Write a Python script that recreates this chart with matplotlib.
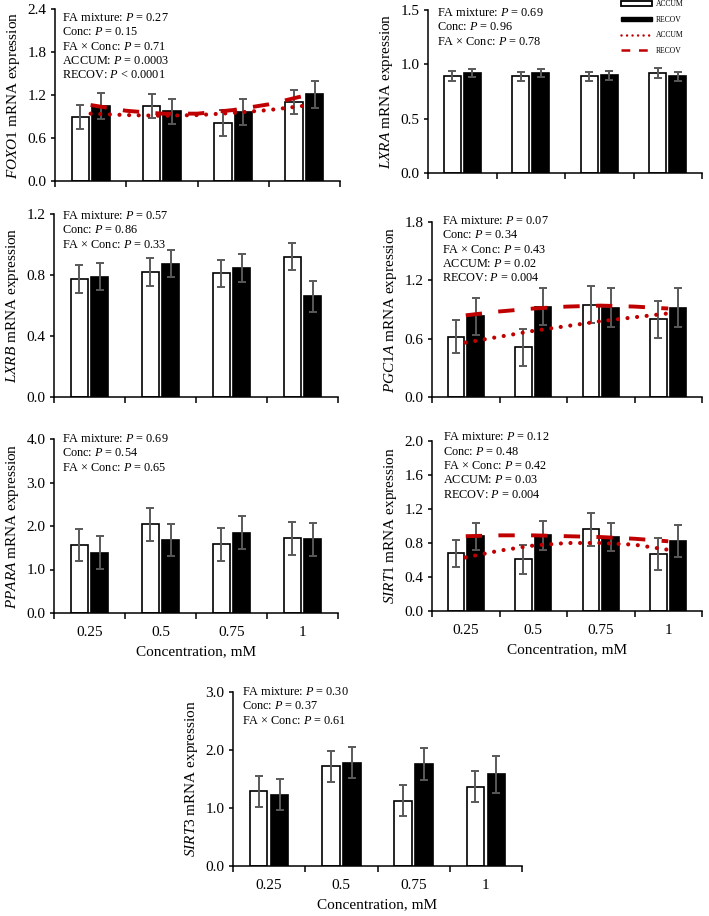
import numpy as np
import matplotlib
matplotlib.use("Agg")
import matplotlib.pyplot as plt
from matplotlib.patches import Patch
from matplotlib.lines import Line2D
from matplotlib.ticker import FormatStrFormatter

plt.rcParams["font.family"] = ["Liberation Serif", "DejaVu Serif"]
plt.rcParams["mathtext.fontset"] = "custom"
plt.rcParams["mathtext.rm"] = "Liberation Serif"
plt.rcParams["mathtext.it"] = "Liberation Serif:italic"

conc = ["0.25", "0.5", "0.75", "1"]
trend_x = [1, 1.5, 2, 2.5, 3, 3.5, 4]

# FOXO1
foxo1_accum = [0.89, 1.05, 0.81, 1.10]
foxo1_accum_se = [0.17, 0.17, 0.18, 0.17]
foxo1_recov = [1.05, 0.97, 0.96, 1.21]
foxo1_recov_se = [0.18, 0.18, 0.18, 0.19]
foxo1_trend_accum = [0.94, 0.92, 0.91, 0.92, 0.95, 0.99, 1.05]
foxo1_trend_recov = [1.06, 0.98, 0.94, 0.94, 0.99, 1.07, 1.19]
foxo1_stats = ["FA mixture: $P$ = 0.27", "Conc: $P$ = 0.15", "FA × Conc: $P$ = 0.71",
               "ACCUM: $P$ = 0.0003", "RECOV: $P$ < 0.0001"]

# LXRA
lxra_accum = [0.89, 0.89, 0.89, 0.92]
lxra_accum_se = [0.045, 0.04, 0.04, 0.05]
lxra_recov = [0.92, 0.92, 0.90, 0.89]
lxra_recov_se = [0.04, 0.04, 0.04, 0.04]
lxra_stats = ["FA mixture: $P$ = 0.69", "Conc: $P$ = 0.96", "FA × Conc: $P$ = 0.78"]

# LXRB
lxrb_accum = [0.775, 0.82, 0.81, 0.92]
lxrb_accum_se = [0.09, 0.09, 0.09, 0.09]
lxrb_recov = [0.79, 0.875, 0.845, 0.66]
lxrb_recov_se = [0.09, 0.09, 0.09, 0.10]
lxrb_stats = ["FA mixture: $P$ = 0.57", "Conc: $P$ = 0.86", "FA × Conc: $P$ = 0.33"]

# PGC1A
pgc1a_accum = [0.62, 0.51, 0.95, 0.80]
pgc1a_accum_se = [0.17, 0.19, 0.19, 0.19]
pgc1a_recov = [0.83, 0.93, 0.92, 0.92]
pgc1a_recov_se = [0.19, 0.19, 0.20, 0.20]
pgc1a_trend_accum = [0.56, 0.62, 0.68, 0.73, 0.78, 0.82, 0.86]
pgc1a_trend_recov = [0.84, 0.88, 0.91, 0.93, 0.94, 0.93, 0.91]
pgc1a_stats = ["FA mixture: $P$ = 0.07", "Conc: $P$ = 0.34", "FA × Conc: $P$ = 0.43",
               "ACCUM: $P$ = 0.02", "RECOV: $P$ = 0.004"]

# PPARA
ppara_accum = [1.56, 2.04, 1.58, 1.72]
ppara_accum_se = [0.37, 0.38, 0.38, 0.38]
ppara_recov = [1.39, 1.67, 1.85, 1.70]
ppara_recov_se = [0.38, 0.37, 0.38, 0.38]
ppara_stats = ["FA mixture: $P$ = 0.69", "Conc: $P$ = 0.54", "FA × Conc: $P$ = 0.65"]

# SIRT1
sirt1_accum = [0.68, 0.61, 0.96, 0.67]
sirt1_accum_se = [0.16, 0.17, 0.19, 0.19]
sirt1_recov = [0.88, 0.89, 0.87, 0.82]
sirt1_recov_se = [0.16, 0.17, 0.16, 0.19]
sirt1_trend_accum = [0.63, 0.71, 0.77, 0.80, 0.80, 0.78, 0.72]
sirt1_trend_recov = [0.88, 0.89, 0.89, 0.88, 0.87, 0.85, 0.82]
sirt1_stats = ["FA mixture: $P$ = 0.12", "Conc: $P$ = 0.48", "FA × Conc: $P$ = 0.42",
               "ACCUM: $P$ = 0.03", "RECOV: $P$ = 0.004"]

# SIRT3
sirt3_accum = [1.29, 1.72, 1.125, 1.37]
sirt3_accum_se = [0.27, 0.27, 0.27, 0.27]
sirt3_recov = [1.23, 1.78, 1.76, 1.58]
sirt3_recov_se = [0.27, 0.27, 0.27, 0.32]
sirt3_stats = ["FA mixture: $P$ = 0.30", "Conc: $P$ = 0.37", "FA × Conc: $P$ = 0.61"]

RED = "#C00000"
GREY = "#595959"
W, H = 709, 916

fig = plt.figure(figsize=(W / 100, H / 100), dpi=100)


def px_rect(left, top, right, bottom):
    return [left / W, 1 - bottom / H, (right - left) / W, (bottom - top) / H]


def panel(rect, gene, accum, accum_se, recov, recov_se, ymax, ystep, stats,
          txt_dx, txt_dy, trend=None, xlabels=False):
    ax = fig.add_axes(rect)
    x = np.arange(1, 5)
    ax.bar(x - 0.145, accum, 0.245, color="white", edgecolor="black", linewidth=1.2, zorder=2)
    ax.bar(x + 0.145, recov, 0.245, color="black", edgecolor="black", linewidth=1.2, zorder=2)
    for xs, ys, es in [(x - 0.145, accum, accum_se), (x + 0.145, recov, recov_se)]:
        ax.errorbar(xs, ys, yerr=es, fmt="none", ecolor=GREY, elinewidth=1.4,
                    capsize=3, capthick=1.4, zorder=3)
    if trend is not None:
        ax.plot(trend_x, trend[0], color=RED, lw=3.0, linestyle=(0, (0.01, 2.3)),
                dash_capstyle="round", zorder=4)
        ax.plot(trend_x, trend[1], color=RED, lw=2.8, linestyle=(0, (4.2, 4.2)), zorder=4)

    ax.set_xlim(0.5, 4.5)
    ax.set_ylim(0, ymax)
    ax.set_yticks(np.arange(0, ymax + ystep / 2, ystep))
    ax.yaxis.set_major_formatter(FormatStrFormatter("%.1f"))
    ax.set_xticks([0.5, 1.5, 2.5, 3.5, 4.5])
    ax.set_xticklabels([])
    ax.set_xticks(x, minor=True)
    ax.tick_params(axis="x", which="major", direction="out", length=4, width=1.1)
    ax.tick_params(axis="x", which="minor", length=0, pad=9.5, labelsize=11)
    ax.tick_params(axis="y", direction="out", length=3, width=1.1, pad=3, labelsize=11)
    if xlabels:
        ax.set_xticklabels(conc, minor=True)
        ax.set_xlabel("Concentration, mM", fontsize=11, labelpad=4.5)
    for s in ["top", "right"]:
        ax.spines[s].set_visible(False)
    for s in ["left", "bottom"]:
        ax.spines[s].set_linewidth(1.1)
    ax.set_ylabel(r"$\mathit{" + gene + "}$ mRNA expression", fontsize=11, labelpad=4)

    for i, line in enumerate(stats):
        ax.annotate(line, xy=(0, 1), xycoords="axes fraction",
                    xytext=(txt_dx * 0.72, -(txt_dy + i * 14.3) * 0.72),
                    textcoords="offset points", ha="left", va="center", fontsize=8.8)
    return ax


panel(px_rect(55, 9, 340, 181), "FOXO1", foxo1_accum, foxo1_accum_se, foxo1_recov,
      foxo1_recov_se, 2.4, 0.6, foxo1_stats, 7, 9, trend=(foxo1_trend_accum, foxo1_trend_recov))
panel(px_rect(428, 10, 702, 173), "LXRA", lxra_accum, lxra_accum_se, lxra_recov,
      lxra_recov_se, 1.5, 0.5, lxra_stats, 9, 3)
panel(px_rect(54, 214, 338, 397), "LXRB", lxrb_accum, lxrb_accum_se, lxrb_recov,
      lxrb_recov_se, 1.2, 0.4, lxrb_stats, 8, 2)
panel(px_rect(432, 222, 702, 397), "PGC1A", pgc1a_accum, pgc1a_accum_se, pgc1a_recov,
      pgc1a_recov_se, 1.8, 0.6, pgc1a_stats, 10, -1, trend=(pgc1a_trend_accum, pgc1a_trend_recov))
panel(px_rect(54, 439, 338, 613), "PPARA", ppara_accum, ppara_accum_se, ppara_recov,
      ppara_recov_se, 4.0, 1.0, ppara_stats, 8, 0, xlabels=True)
panel(px_rect(432, 441, 702, 611), "SIRT1", sirt1_accum, sirt1_accum_se, sirt1_recov,
      sirt1_recov_se, 2.0, 0.4, sirt1_stats, 10.5, -3.5, trend=(sirt1_trend_accum, sirt1_trend_recov),
      xlabels=True)
panel(px_rect(233, 692, 522, 866), "SIRT3", sirt3_accum, sirt3_accum_se, sirt3_recov,
      sirt3_recov_se, 3.0, 1.0, sirt3_stats, 9.5, 0, xlabels=True)

handles = [
    Patch(facecolor="white", edgecolor="black", linewidth=1.3),
    Patch(facecolor="black", edgecolor="black"),
    Line2D([], [], color=RED, lw=1.8, linestyle=(0, (0.01, 2.2)), dash_capstyle="round"),
    Line2D([], [], color=RED, lw=1.8, linestyle=(0, (3.5, 3.5))),
]
fig.legend(handles, ["ACCUM", "RECOV", "ACCUM", "RECOV"], loc="upper left",
           bbox_to_anchor=(621 / W, 1.0), frameon=False, fontsize=5.5,
           handlelength=4.1, handleheight=0.55, handletextpad=0.45,
           labelspacing=1.0, borderpad=0.0, borderaxespad=0.0)

fig.savefig("out.png", dpi=100)
